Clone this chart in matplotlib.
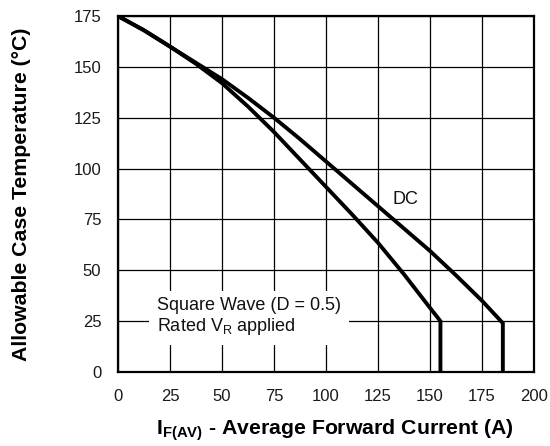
import matplotlib
matplotlib.use("Agg")
import matplotlib.pyplot as plt

plt.rcParams['font.family'] = ['Liberation Sans', 'DejaVu Sans']

# courbe DC
dc_current = [0, 12.5, 25, 37.5, 50, 62.5, 75, 87.5, 100, 112.5, 125, 137.5, 150, 162.5, 175, 185, 185]
dc_temp = [175, 168, 160, 152, 144, 134.8, 125, 114.5, 103.5, 92.5, 81.5, 70.5, 59.5, 47.5, 35, 24, 0]

# onde carree D = 0.5
sq_current = [0, 12.5, 25, 37.5, 50, 62.5, 75, 87.5, 100, 112.5, 125, 137.5, 150, 155, 155]
sq_temp = [175, 168, 160, 151.5, 142, 130.5, 118, 104.5, 91, 77.5, 63.5, 48, 31.5, 25, 0]

x_ticks = [0, 25, 50, 75, 100, 125, 150, 175, 200]
y_ticks = [0, 25, 50, 75, 100, 125, 150, 175]

fig = plt.figure(figsize=(5.5, 4.46), dpi=100)
ax = fig.add_axes([0.2145, 0.166, 0.7565, 0.798])

ax.plot(dc_current, dc_temp, color='black', linewidth=2.8, solid_joinstyle='miter', zorder=3)
ax.plot(sq_current, sq_temp, color='black', linewidth=2.8, solid_joinstyle='miter', zorder=3)

ax.set_xlim(0, 200)
ax.set_ylim(0, 175)
ax.set_xticks(x_ticks)
ax.set_yticks(y_ticks)
ax.tick_params(length=0, labelsize=12, colors='#1a1a1a')
ax.tick_params(axis='x', pad=12)
ax.tick_params(axis='y', pad=12)
ax.grid(True, color='black', linewidth=0.9)
ax.set_axisbelow(True)
for s in ax.spines.values():
    s.set_linewidth(1.6)

ax.text(138, 84.6, 'DC', fontsize=13, ha='center', va='center', color='#111111', zorder=4)
ax.text(18.6, 27.1, 'Square Wave (D = 0.5)\nRated V$_\\mathregular{R}$ applied', fontsize=13,
        ha='left', va='center', color='#111111', linespacing=1.15, zorder=2,
        bbox=dict(boxstyle='square', fc='white', ec='none', pad=0.45))

ax.set_xlabel('I$_\\mathregular{F(AV)}$ - Average Forward Current (A)', fontsize=15.3,
              fontweight='bold', va='center')
ax.set_ylabel('Allowable Case Temperature (°C)', fontsize=15.3, fontweight='bold', va='center')
ax.xaxis.set_label_coords(0.522, -0.163)
ax.yaxis.set_label_coords(-0.231, 0.5)

fig.savefig('out.png', dpi=100)
